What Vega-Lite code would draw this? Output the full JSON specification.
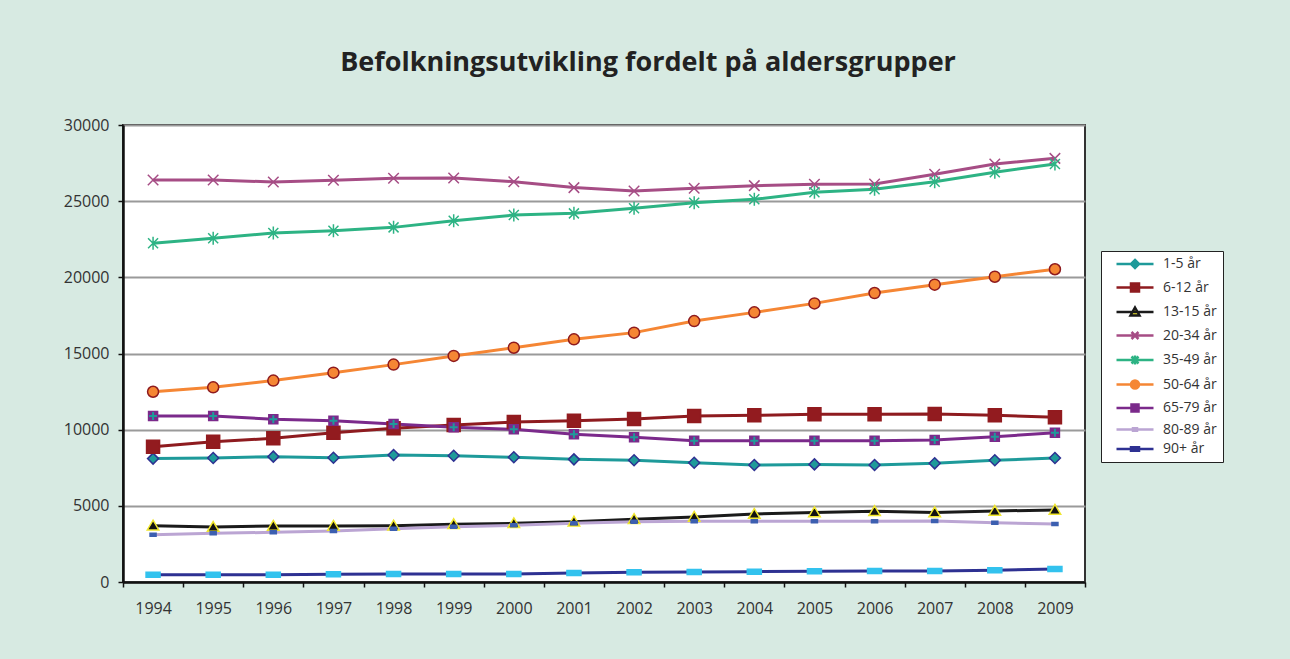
{
  "$schema": "https://vega.github.io/schema/vega-lite/v6.json",
  "autosize": "none",
  "width": 962,
  "height": 457,
  "padding": {"left": 123, "top": 125, "right": 205, "bottom": 77},
  "background": "#d7eae2",
  "title": {
    "text": "Befolkningsutvikling fordelt på aldersgrupper",
    "font": "Open Sans",
    "fontSize": 27,
    "fontWeight": "bold",
    "color": "#222222",
    "anchor": "middle",
    "frame": "group",
    "dx": 44,
    "offset": 40
  },
  "config": {
    "view": {"stroke": "#333333", "strokeWidth": 2, "fill": "white"},
    "axis": {"labelFont": "Open Sans", "labelFontSize": 16, "labelColor": "#333333"},
    "legend": {"labelFont": "Open Sans", "labelFontSize": 14, "labelColor": "#333333"}
  },
  "data": {
    "values": [
      {"year": 1994, "serie": "1-5 år", "value": 8100}, {"year": 1995, "serie": "1-5 år", "value": 8140}, {"year": 1996, "serie": "1-5 år", "value": 8230}, {"year": 1997, "serie": "1-5 år", "value": 8160}, {"year": 1998, "serie": "1-5 år", "value": 8340}, {"year": 1999, "serie": "1-5 år", "value": 8290}, {"year": 2000, "serie": "1-5 år", "value": 8190}, {"year": 2001, "serie": "1-5 år", "value": 8050}, {"year": 2002, "serie": "1-5 år", "value": 7990}, {"year": 2003, "serie": "1-5 år", "value": 7830}, {"year": 2004, "serie": "1-5 år", "value": 7680}, {"year": 2005, "serie": "1-5 år", "value": 7720}, {"year": 2006, "serie": "1-5 år", "value": 7680}, {"year": 2007, "serie": "1-5 år", "value": 7790}, {"year": 2008, "serie": "1-5 år", "value": 7990}, {"year": 2009, "serie": "1-5 år", "value": 8140},
      {"year": 1994, "serie": "6-12 år", "value": 8880}, {"year": 1995, "serie": "6-12 år", "value": 9210}, {"year": 1996, "serie": "6-12 år", "value": 9430}, {"year": 1997, "serie": "6-12 år", "value": 9800}, {"year": 1998, "serie": "6-12 år", "value": 10090}, {"year": 1999, "serie": "6-12 år", "value": 10310}, {"year": 2000, "serie": "6-12 år", "value": 10500}, {"year": 2001, "serie": "6-12 år", "value": 10590}, {"year": 2002, "serie": "6-12 år", "value": 10700}, {"year": 2003, "serie": "6-12 år", "value": 10900}, {"year": 2004, "serie": "6-12 år", "value": 10940}, {"year": 2005, "serie": "6-12 år", "value": 11010}, {"year": 2006, "serie": "6-12 år", "value": 11010}, {"year": 2007, "serie": "6-12 år", "value": 11030}, {"year": 2008, "serie": "6-12 år", "value": 10940}, {"year": 2009, "serie": "6-12 år", "value": 10810},
      {"year": 1994, "serie": "13-15 år", "value": 3700}, {"year": 1995, "serie": "13-15 år", "value": 3610}, {"year": 1996, "serie": "13-15 år", "value": 3680}, {"year": 1997, "serie": "13-15 år", "value": 3680}, {"year": 1998, "serie": "13-15 år", "value": 3700}, {"year": 1999, "serie": "13-15 år", "value": 3790}, {"year": 2000, "serie": "13-15 år", "value": 3850}, {"year": 2001, "serie": "13-15 år", "value": 3960}, {"year": 2002, "serie": "13-15 år", "value": 4120}, {"year": 2003, "serie": "13-15 år", "value": 4270}, {"year": 2004, "serie": "13-15 år", "value": 4460}, {"year": 2005, "serie": "13-15 år", "value": 4570}, {"year": 2006, "serie": "13-15 år", "value": 4640}, {"year": 2007, "serie": "13-15 år", "value": 4570}, {"year": 2008, "serie": "13-15 år", "value": 4660}, {"year": 2009, "serie": "13-15 år", "value": 4730},
      {"year": 1994, "serie": "20-34 år", "value": 26390}, {"year": 1995, "serie": "20-34 år", "value": 26390}, {"year": 1996, "serie": "20-34 år", "value": 26260}, {"year": 1997, "serie": "20-34 år", "value": 26370}, {"year": 1998, "serie": "20-34 år", "value": 26500}, {"year": 1999, "serie": "20-34 år", "value": 26520}, {"year": 2000, "serie": "20-34 år", "value": 26280}, {"year": 2001, "serie": "20-34 år", "value": 25890}, {"year": 2002, "serie": "20-34 år", "value": 25670}, {"year": 2003, "serie": "20-34 år", "value": 25850}, {"year": 2004, "serie": "20-34 år", "value": 26020}, {"year": 2005, "serie": "20-34 år", "value": 26110}, {"year": 2006, "serie": "20-34 år", "value": 26130}, {"year": 2007, "serie": "20-34 år", "value": 26770}, {"year": 2008, "serie": "20-34 år", "value": 27440}, {"year": 2009, "serie": "20-34 år", "value": 27810},
      {"year": 1994, "serie": "35-49 år", "value": 22240}, {"year": 1995, "serie": "35-49 år", "value": 22560}, {"year": 1996, "serie": "35-49 år", "value": 22910}, {"year": 1997, "serie": "35-49 år", "value": 23060}, {"year": 1998, "serie": "35-49 år", "value": 23280}, {"year": 1999, "serie": "35-49 år", "value": 23720}, {"year": 2000, "serie": "35-49 år", "value": 24090}, {"year": 2001, "serie": "35-49 år", "value": 24200}, {"year": 2002, "serie": "35-49 år", "value": 24530}, {"year": 2003, "serie": "35-49 år", "value": 24900}, {"year": 2004, "serie": "35-49 år", "value": 25120}, {"year": 2005, "serie": "35-49 år", "value": 25580}, {"year": 2006, "serie": "35-49 år", "value": 25780}, {"year": 2007, "serie": "35-49 år", "value": 26280}, {"year": 2008, "serie": "35-49 år", "value": 26900}, {"year": 2009, "serie": "35-49 år", "value": 27440},
      {"year": 1994, "serie": "50-64 år", "value": 12490}, {"year": 1995, "serie": "50-64 år", "value": 12780}, {"year": 1996, "serie": "50-64 år", "value": 13220}, {"year": 1997, "serie": "50-64 år", "value": 13740}, {"year": 1998, "serie": "50-64 år", "value": 14270}, {"year": 1999, "serie": "50-64 år", "value": 14840}, {"year": 2000, "serie": "50-64 år", "value": 15380}, {"year": 2001, "serie": "50-64 år", "value": 15930}, {"year": 2002, "serie": "50-64 år", "value": 16370}, {"year": 2003, "serie": "50-64 år", "value": 17130}, {"year": 2004, "serie": "50-64 år", "value": 17700}, {"year": 2005, "serie": "50-64 år", "value": 18290}, {"year": 2006, "serie": "50-64 år", "value": 18970}, {"year": 2007, "serie": "50-64 år", "value": 19520}, {"year": 2008, "serie": "50-64 år", "value": 20040}, {"year": 2009, "serie": "50-64 år", "value": 20530},
      {"year": 1994, "serie": "65-79 år", "value": 10900}, {"year": 1995, "serie": "65-79 år", "value": 10900}, {"year": 1996, "serie": "65-79 år", "value": 10680}, {"year": 1997, "serie": "65-79 år", "value": 10590}, {"year": 1998, "serie": "65-79 år", "value": 10370}, {"year": 1999, "serie": "65-79 år", "value": 10160}, {"year": 2000, "serie": "65-79 år", "value": 10020}, {"year": 2001, "serie": "65-79 år", "value": 9700}, {"year": 2002, "serie": "65-79 år", "value": 9500}, {"year": 2003, "serie": "65-79 år", "value": 9280}, {"year": 2004, "serie": "65-79 år", "value": 9280}, {"year": 2005, "serie": "65-79 år", "value": 9280}, {"year": 2006, "serie": "65-79 år", "value": 9280}, {"year": 2007, "serie": "65-79 år", "value": 9320}, {"year": 2008, "serie": "65-79 år", "value": 9540}, {"year": 2009, "serie": "65-79 år", "value": 9800},
      {"year": 1994, "serie": "80-89 år", "value": 3100}, {"year": 1995, "serie": "80-89 år", "value": 3200}, {"year": 1996, "serie": "80-89 år", "value": 3260}, {"year": 1997, "serie": "80-89 år", "value": 3350}, {"year": 1998, "serie": "80-89 år", "value": 3500}, {"year": 1999, "serie": "80-89 år", "value": 3630}, {"year": 2000, "serie": "80-89 år", "value": 3720}, {"year": 2001, "serie": "80-89 år", "value": 3850}, {"year": 2002, "serie": "80-89 år", "value": 3960}, {"year": 2003, "serie": "80-89 år", "value": 3980}, {"year": 2004, "serie": "80-89 år", "value": 3980}, {"year": 2005, "serie": "80-89 år", "value": 3980}, {"year": 2006, "serie": "80-89 år", "value": 3980}, {"year": 2007, "serie": "80-89 år", "value": 4000}, {"year": 2008, "serie": "80-89 år", "value": 3890}, {"year": 2009, "serie": "80-89 år", "value": 3810},
      {"year": 1994, "serie": "90+ år", "value": 480}, {"year": 1995, "serie": "90+ år", "value": 470}, {"year": 1996, "serie": "90+ år", "value": 470}, {"year": 1997, "serie": "90+ år", "value": 505}, {"year": 1998, "serie": "90+ år", "value": 525}, {"year": 1999, "serie": "90+ år", "value": 525}, {"year": 2000, "serie": "90+ år", "value": 525}, {"year": 2001, "serie": "90+ år", "value": 590}, {"year": 2002, "serie": "90+ år", "value": 635}, {"year": 2003, "serie": "90+ år", "value": 656}, {"year": 2004, "serie": "90+ år", "value": 680}, {"year": 2005, "serie": "90+ år", "value": 700}, {"year": 2006, "serie": "90+ år", "value": 720}, {"year": 2007, "serie": "90+ år", "value": 720}, {"year": 2008, "serie": "90+ år", "value": 770}, {"year": 2009, "serie": "90+ år", "value": 850}
    ]
  },
  "encoding": {
    "x": {
      "field": "year", "type": "ordinal",
      "scale": {"type": "band", "paddingInner": 0, "paddingOuter": 0},
      "axis": {
        "title": null, "labelAngle": 0, "tickBand": "extent", "grid": false,
        "domainColor": "#111111", "domainWidth": 2.5, "tickColor": "#111111", "tickWidth": 1.5, "tickSize": 5,
        "labelPadding": 13
      }
    },
    "y": {
      "field": "value", "type": "quantitative",
      "scale": {"domain": [0, 30000], "nice": false},
      "axis": {
        "title": null, "values": [0, 5000, 10000, 15000, 20000, 25000, 30000], "format": "d",
        "grid": true, "gridColor": "#9a9a9a", "gridWidth": 2,
        "domainColor": "#111111", "domainWidth": 2.5, "tickColor": "#111111", "tickWidth": 1.5, "tickSize": 5,
        "labelPadding": 9
      }
    }
  },
  "layer": [
    {
      "mark": {"type": "line", "strokeWidth": 3},
      "encoding": {
        "stroke": {
          "field": "serie", "type": "nominal", "legend": null,
          "scale": {
            "domain": ["1-5 år", "6-12 år", "13-15 år", "20-34 år", "35-49 år", "50-64 år", "65-79 år", "80-89 år", "90+ år"],
            "range": ["#1e9a9a", "#8e1b1f", "#1a1a1a", "#a64d85", "#2db384", "#f58634", "#7b2a8b", "#bba5d3", "#2e3192"]
          }
        }
      }
    },
    {
      "mark": {"type": "point", "filled": true, "size": 100, "strokeWidth": 1.5, "opacity": 1},
      "encoding": {
        "shape": {
          "field": "serie", "type": "nominal", "legend": null,
          "scale": {
            "domain": ["1-5 år", "6-12 år", "13-15 år", "20-34 år", "35-49 år", "50-64 år", "65-79 år", "80-89 år", "90+ år"],
            "range": [
              "M0,-1.1L1.1,0L0,1.1L-1.1,0Z",
              "M-1.3,-1.3H1.3V1.3H-1.3Z",
              "M0,-1.1L1.15,0.85H-1.15Z",
              "M-1.05,-1.05L1.05,1.05M-1.05,1.05L1.05,-1.05",
              "M-1,-1L1,1M-1,1L1,-1M0,-1.3V1.3",
              "M-1.1,0A1.1,1.1,0,1,0,1.1,0A1.1,1.1,0,1,0,-1.1,0Z",
              "M-0.9,-0.9H0.9V0.9H-0.9Z",
              "M-0.6,-0.3H0.6V0.3H-0.6Z",
              "M-1.4,-0.5H1.4V0.5H-1.4Z"
            ]
          }
        },
        "fill": {
          "field": "serie", "type": "nominal", "legend": null,
          "scale": {
            "domain": ["1-5 år", "6-12 år", "13-15 år", "20-34 år", "35-49 år", "50-64 år", "65-79 år", "80-89 år", "90+ år"],
            "range": ["#1f9a9a", "#921b1f", "#111111", "#a64d85", "#2db384", "#f58634", "#7b2a8b", "#3c5fb0", "#33c2ee"]
          }
        },
        "stroke": {
          "field": "serie", "type": "nominal", "legend": null,
          "scale": {
            "domain": ["1-5 år", "6-12 år", "13-15 år", "20-34 år", "35-49 år", "50-64 år", "65-79 år", "80-89 år", "90+ år"],
            "range": ["#2e3192", "#921b1f", "#f0e62e", "#a64d85", "#2db384", "#8e1a1e", "#7b2a8b", "#3c5fb0", "#33c2ee"]
          }
        }
      }
    },
    {
      "transform": [{"filter": "datum.serie === '65-79 år'"}],
      "mark": {"type": "point", "filled": false, "size": 100, "strokeWidth": 2, "stroke": "#1f9a9a", "shape": "M-0.8,0H0.8M0,-0.8V0.8", "opacity": 1}
    },
    {
      "mark": {"type": "point", "filled": true, "size": 100, "opacity": 0},
      "encoding": {
        "shape": {
          "field": "serie", "type": "nominal",
          "scale": {
            "domain": ["1-5 år", "6-12 år", "13-15 år", "20-34 år", "35-49 år", "50-64 år", "65-79 år", "80-89 år", "90+ år"],
            "range": [
              "M0.5,0H7.9M4.2,-0.8L5.0,0L4.2,0.8L3.4,0Z",
              "M0.5,0H7.9M3.4,-0.8H5.0V0.8H3.4Z",
              "M0.5,0H7.9M4.2,-0.9L5.1,0.7H3.3Z",
              "M0.5,0H7.9M3.5,-0.7L4.9,0.7M3.5,0.7L4.9,-0.7",
              "M0.5,0H7.9M3.5,-0.7L4.9,0.7M3.5,0.7L4.9,-0.7M4.2,-0.9V0.9",
              "M0.5,0H7.9M3.4,0A0.8,0.8,0,1,0,5.0,0A0.8,0.8,0,1,0,3.4,0Z",
              "M0.5,0H7.9M3.5,-0.7H4.9V0.7H3.5Z",
              "M0.5,0H7.9M3.8,-0.25H4.6V0.25H3.8Z",
              "M0.5,0H7.9M3.4,-0.35H5.0V0.35H3.4Z"
            ]
          },
          "legend": {
            "title": null,
            "orient": "none",
            "legendX": 978,
            "legendY": 126,
            "padding": 6,
            "strokeColor": "#222222",
            "fillColor": "white",
            "symbolSize": 100,
            "symbolStrokeWidth": 2.5,
            "symbolOpacity": 1,
            "labelOffset": 42,
            "rowPadding": 5.5,
            "encode": {"symbols": {"update": {"opacity": {"value": 1}}}}
          }
        },
        "fill": {
          "field": "serie", "type": "nominal",
          "scale": {
            "domain": ["1-5 år", "6-12 år", "13-15 år", "20-34 år", "35-49 år", "50-64 år", "65-79 år", "80-89 år", "90+ år"],
            "range": ["#1f9a9a", "#921b1f", "#f2e830", "#a64d85", "#2db384", "#f58634", "#7b2a8b", "#3c5fb0", "#33c2ee"]
          }
        },
        "stroke": {
          "field": "serie", "type": "nominal",
          "scale": {
            "domain": ["1-5 år", "6-12 år", "13-15 år", "20-34 år", "35-49 år", "50-64 år", "65-79 år", "80-89 år", "90+ år"],
            "range": ["#1e9a9a", "#8e1b1f", "#1a1a1a", "#a64d85", "#2db384", "#f58634", "#7b2a8b", "#bba5d3", "#2e3192"]
          }
        }
      }
    }
  ],
  "resolve": {"scale": {"stroke": "independent", "fill": "independent", "shape": "independent"}}
}
